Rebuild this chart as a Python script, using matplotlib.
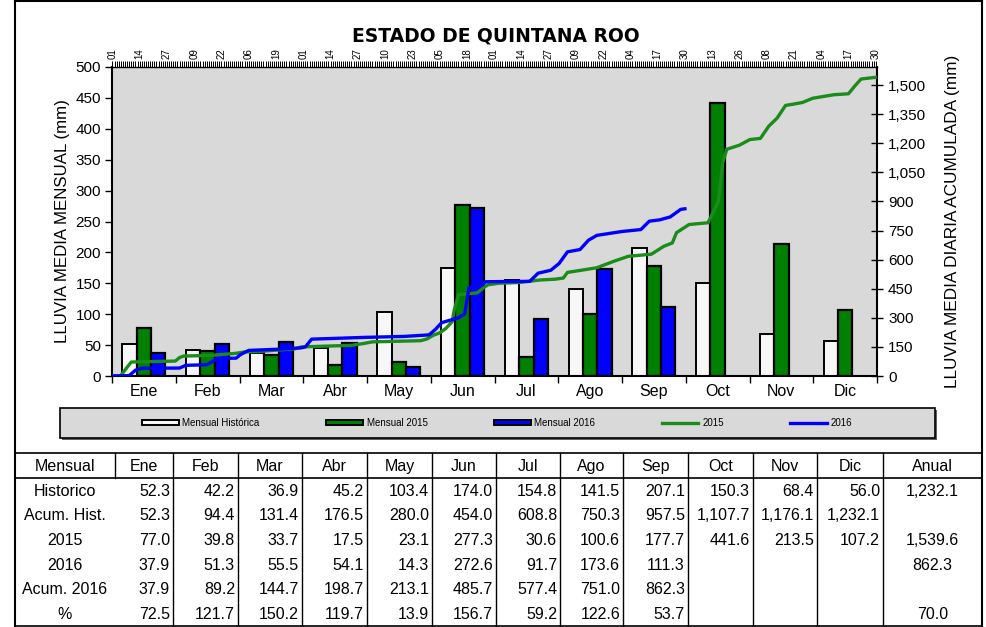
import matplotlib
matplotlib.use("Agg")
import matplotlib.pyplot as plt
from matplotlib.patches import Patch, Rectangle
from matplotlib.lines import Line2D
from matplotlib.ticker import FuncFormatter

plt.rcParams["font.family"] = ["Liberation Sans", "DejaVu Sans"]

# -----------------------------
# Data
# -----------------------------

months = ["Ene", "Feb", "Mar", "Abr", "May", "Jun", "Jul", "Ago", "Sep", "Oct", "Nov", "Dic"]

historico = [52.3, 42.2, 36.9, 45.2, 103.4, 174.0, 154.8, 141.5, 207.1, 150.3, 68.4, 56.0]
acum_hist = [52.3, 94.4, 131.4, 176.5, 280.0, 454.0, 608.8, 750.3, 957.5, 1107.7, 1176.1, 1232.1]
mensual_2015 = [77.0, 39.8, 33.7, 17.5, 23.1, 277.3, 30.6, 100.6, 177.7, 441.6, 213.5, 107.2]
mensual_2016 = [37.9, 51.3, 55.5, 54.1, 14.3, 272.6, 91.7, 173.6, 111.3, None, None, None]
acum_2016 = [37.9, 89.2, 144.7, 198.7, 213.1, 485.7, 577.4, 751.0, 862.3, None, None, None]
porcentaje = [72.5, 121.7, 150.2, 119.7, 13.9, 156.7, 59.2, 122.6, 53.7, None, None, None]
anual = [1232.1, None, 1539.6, 862.3, None, 70.0]

# daily accumulated rainfall (day of year, mm)
dias_2015 = [1, 5, 8, 10, 31, 33, 35, 48, 60, 64, 70, 88, 91, 115, 121, 125, 148, 151,
             154, 157, 160, 163, 164, 166, 175, 178, 180, 185, 195, 205, 212, 216, 218,
             232, 240, 247, 258, 264, 268, 270, 276, 285, 287, 290, 292, 294, 300, 305,
             310, 314, 318, 322, 326, 330, 335, 345, 352, 355, 358, 365]
acum_d_2015 = [0, 2, 45, 72, 77, 95, 103, 106, 117, 124, 126, 140, 150, 158, 168, 176, 182, 191,
               210, 222, 245, 280, 340, 419, 429, 455, 470, 478, 482, 495, 499, 505, 534,
               558, 591, 617, 628, 669, 686, 739, 781, 790, 833, 900, 1100, 1169, 1190, 1219,
               1225, 1288, 1330, 1395, 1402, 1410, 1432, 1450, 1455, 1495, 1531, 1540]

dias_2016 = [1, 9, 12, 15, 33, 36, 46, 48, 51, 60, 62, 66, 80, 91, 93, 96, 110, 121, 140,
             152, 155, 158, 166, 169, 171, 176, 179, 200, 204, 210, 214, 218, 224, 228,
             232, 244, 253, 257, 262, 267, 272, 274]
acum_d_2016 = [0, 2, 30, 40, 41, 55, 58, 70, 90, 92, 110, 132, 138, 145, 150, 190, 195, 199, 204,
               212, 240, 275, 300, 320, 455, 460, 486, 488, 530, 545, 580, 640, 652, 700,
               725, 745, 755, 798, 805, 820, 859, 862]

top_dias = list(range(1, 366, 13))
top_labels = ["01", "14", "27", "09", "22", "06", "19", "01", "14", "27", "10", "23", "05", "18",
              "01", "14", "27", "09", "22", "04", "17", "30", "13", "26", "08", "21", "04", "17", "30"]

# -----------------------------
# Figure
# -----------------------------

W, H = 986, 627
fig = plt.figure(figsize=(W / 100, H / 100), dpi=100)
fig.patch.set_facecolor("white")

L, R, T, B = 112, 877, 67, 376
pos = [L / W, 1 - B / H, (R - L) / W, (B - T) / H]

ax = fig.add_axes(pos)
ax.set_facecolor("#D9D9D9")

x = list(range(12))
w = 0.225
ax.bar([i - w for i in x], historico, width=w, color="#F7F7F7", edgecolor="black", linewidth=1.4)
ax.bar(x, mensual_2015, width=w, color="#008000", edgecolor="black", linewidth=1.6)
vals16 = [v if v is not None else 0 for v in mensual_2016]
ax.bar([i + w for i in x[:9]], vals16[:9], width=w, color="#0000FF", edgecolor="black", linewidth=1.6)

ax.set_xlim(-0.5, 11.5)
ax.set_ylim(0, 500)
ax.set_yticks(range(0, 501, 50))
ax.set_xticks([i - 0.5 for i in range(13)])
ax.set_xticklabels([])
ax.set_xticks(x, minor=True)
ax.set_xticklabels(months, minor=True)
ax.tick_params(axis="x", which="major", direction="out", length=5, width=1)
ax.tick_params(axis="x", which="minor", length=0, labelsize=11.5, pad=6)
ax.tick_params(axis="y", direction="out", length=5, width=1, labelsize=11, pad=3)
for s in ax.spines.values():
    s.set_linewidth(1.5)
ax.spines["top"].set_linewidth(1.0)

# line axes: top (days) and right (accumulated)
axl = fig.add_axes(pos)
axl.patch.set_visible(False)
axl.set_zorder(ax.get_zorder() + 1)
for s in axl.spines.values():
    s.set_visible(False)
axl.plot(dias_2015, acum_d_2015, color="#1A8C1A", linewidth=2.4, solid_joinstyle="round")
axl.plot(dias_2016, acum_d_2016, color="#0000FF", linewidth=2.4, solid_joinstyle="round")
axl.set_xlim(0.8, 365.6)
axl.set_ylim(0, 1593)
axl.xaxis.tick_top()
axl.yaxis.tick_right()
axl.set_xticks(top_dias)
axl.set_xticklabels(top_labels, rotation=90)
axl.set_xticks(range(1, 366), minor=True)
axl.tick_params(axis="x", which="major", direction="out", length=4, width=0.7, labelsize=7, pad=2)
axl.tick_params(axis="x", which="minor", direction="out", length=4, width=0.7)
axl.set_yticks(range(0, 1501, 150))
axl.yaxis.set_major_formatter(FuncFormatter(lambda v, p: f"{v:,.0f}"))
axl.tick_params(axis="y", direction="inout", length=8, width=1, labelsize=11, pad=4)

fig.text(0.503, 1 - 42 / H, "ESTADO DE QUINTANA ROO", ha="center", va="baseline",
         fontsize=13.5, fontweight="heavy", family=["DejaVu Sans"])
fig.text(62 / W, 1 - 221 / H, "LLUVIA MEDIA MENSUAL (mm)", rotation=90,
         ha="center", va="center", fontsize=12.2)
fig.text(953 / W, 1 - 221 / H, "LLUVIA MEDIA DIARIA ACUMULADA (mm)", rotation=90,
         ha="center", va="center", fontsize=12.4)

# -----------------------------
# Legend
# -----------------------------

fig.patches.append(Rectangle((62 / W, 1 - 440 / H), 875 / W, 30 / H, transform=fig.transFigure,
                             facecolor="#606060", edgecolor="none", zorder=1))
fig.patches.append(Rectangle((60 / W, 1 - 438 / H), 875 / W, 30 / H, transform=fig.transFigure,
                             facecolor="#D9D9D9", edgecolor="black", linewidth=1.2, zorder=2))
handles = [
    Patch(facecolor="#F7F7F7", edgecolor="black", linewidth=1.4),
    Patch(facecolor="#008000", edgecolor="black", linewidth=1.4),
    Patch(facecolor="#0000FF", edgecolor="black", linewidth=1.4),
    Line2D([], [], color="#1A8C1A", linewidth=2.4),
    Line2D([], [], color="#0000FF", linewidth=2.4),
]
labels = ["Mensual Histórica", "Mensual 2015", "Mensual 2016", "2015", "2016"]
leg = fig.legend(handles, labels, loc="center", bbox_to_anchor=(497 / W, 1 - 423 / H),
                 ncol=5, frameon=False, fontsize=7, handlelength=3.8, handleheight=0.5,
                 columnspacing=6.8, handletextpad=0.4)
leg.set_zorder(3)

# -----------------------------
# Table
# -----------------------------

tax = fig.add_axes([0, 0, 1, 1], zorder=-1)
tax.set_xlim(0, W)
tax.set_ylim(H, 0)
tax.axis("off")

edges = [15, 115, 173, 238, 302, 367, 432, 496, 560, 623, 688, 753, 817, 883, 982]
top_y, head_y, bot_y = 453, 478, 626
row_h = (bot_y - head_y) / 6

tax.plot([15, 982], [top_y, top_y], color="black", lw=1.2)
tax.plot([15, 982], [head_y, head_y], color="black", lw=1.2)
tax.plot([15, 982], [bot_y, bot_y], color="black", lw=1.2)
tax.plot([15, 15], [0, bot_y], color="black", lw=1.5)
tax.plot([982, 982], [0, bot_y], color="black", lw=1.5)
tax.plot([15, 982], [1, 1], color="black", lw=1.5)
tax.plot([edges[1], edges[1]], [top_y, head_y], color="black", lw=1)
for e in edges[2:-1]:
    tax.plot([e, e], [top_y, bot_y], color="black", lw=1)

fs = 11.5
header = ["Mensual"] + months + ["Anual"]
for j, h in enumerate(header):
    tax.text((edges[j] + edges[j + 1]) / 2, (top_y + head_y) / 2 + 1, h,
             ha="center", va="center", fontsize=fs)

row_names = ["Historico", "Acum. Hist.", "2015", "2016", "Acum. 2016", "%"]
rows = [historico, acum_hist, mensual_2015, mensual_2016, acum_2016, porcentaje]
for r, (name, vals) in enumerate(zip(row_names, rows)):
    yc = head_y + row_h * (r + 0.5) + 1
    tax.text((edges[0] + edges[1]) / 2, yc, name, ha="center", va="center", fontsize=fs)
    for j, v in enumerate(vals):
        if v is None:
            continue
        tax.text(edges[j + 2] - 3, yc, f"{v:,.1f}", ha="right", va="center", fontsize=fs)
    if anual[r] is not None:
        tax.text((edges[-2] + edges[-1]) / 2, yc, f"{anual[r]:,.1f}",
                 ha="center", va="center", fontsize=fs)

fig.savefig("out.png", dpi=100)
